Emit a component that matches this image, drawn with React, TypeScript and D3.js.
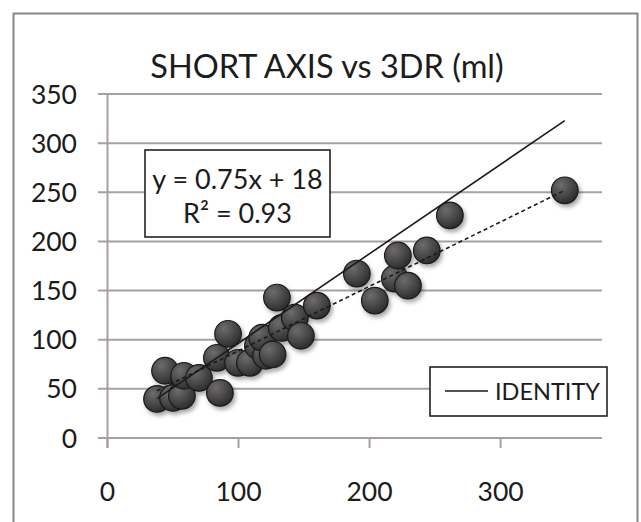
import React, { useEffect, useRef } from 'react';
import * as d3 from 'd3';

// 3DR volumes (x) and short axis volumes (y), ml
const xValues: number[] = [37.8, 43.9, 50, 56.8, 58.4, 69.8, 85.8, 83.5, 92, 99.6, 108.7, 114.8, 121, 118, 126, 129.3, 133, 143, 147.6, 159.8, 190.3, 204, 219.3, 229.3, 221.6, 243.7, 261.3, 349];
const yValues: number[] = [39.8, 68.4, 40.8, 42.9, 63.3, 61.2, 45.9, 81.6, 106, 76.5, 76.5, 93.9, 83.7, 102, 85, 142.9, 112, 122.4, 104, 134.7, 167.3, 139.8, 162.2, 155, 185.7, 190.8, 226.5, 252];

// line end points as drawn
const identityX: number[] = [37.8, 349];
const identityY: number[] = [40, 323];
const trendX: number[] = [37.8, 349];
const trendY: number[] = [48, 252];

const xTicks: number[] = [0, 100, 200, 300];
const yTicks: number[] = [0, 50, 100, 150, 200, 250, 300, 350];

const title = 'SHORT AXIS vs 3DR (ml)';
const equation = ['y = 0.75x + 18', 'R² = 0.93'];
const legendLabel = 'IDENTITY';

const width = 641;
const height = 522;
const font = 'Lato, sans-serif';
const gridColor = '#a8a09e';
const textColor = '#1c1c1c';

export default function App() {
  const ref = useRef<SVGSVGElement>(null);

  useEffect(() => {
    const svg = d3.select(ref.current);
    svg.selectAll('*').remove();

    const x: any = d3.scaleLinear().domain([0, 377.4]).range([107.5, 602]);
    const y: any = d3.scaleLinear().domain([0, 350]).range([438, 94]);

    const defs = svg.append('defs');
    const grad = defs.append('radialGradient')
      .attr('id', 'ball').attr('cx', '35%').attr('cy', '30%').attr('r', '75%');
    grad.append('stop').attr('offset', '0%').attr('stop-color', '#6e6c6b');
    grad.append('stop').attr('offset', '100%').attr('stop-color', '#2b2a2a');
    defs.append('filter').attr('id', 'shadow')
      .attr('x', '-50%').attr('y', '-50%').attr('width', '200%').attr('height', '200%')
      .append('feDropShadow')
      .attr('dx', 2).attr('dy', 3).attr('stdDeviation', 2)
      .attr('flood-color', '#000').attr('flood-opacity', 0.35);

    svg.append('rect').attr('width', width).attr('height', height).attr('fill', '#fff');

    // outer frame
    svg.append('rect')
      .attr('x', 13.5).attr('y', 13.5).attr('width', 624).attr('height', 540)
      .attr('fill', 'none').attr('stroke', '#8c8582').attr('stroke-width', 2);

    svg.append('text')
      .attr('x', 327).attr('y', 78)
      .attr('text-anchor', 'middle')
      .attr('font-family', font).attr('font-size', 32.5).attr('fill', textColor)
      .text(title);

    // gridlines
    svg.append('g').selectAll('line').data(yTicks).enter().append('line')
      .attr('x1', 98).attr('x2', x.range()[1])
      .attr('y1', (d: number) => y(d)).attr('y2', (d: number) => y(d))
      .attr('stroke', gridColor).attr('stroke-width', 2);

    // y axis
    svg.append('line')
      .attr('x1', x(0)).attr('x2', x(0)).attr('y1', y(350)).attr('y2', y(0) + 10)
      .attr('stroke', gridColor).attr('stroke-width', 2);
    svg.append('g').selectAll('line').data(xTicks).enter().append('line')
      .attr('x1', (d: number) => x(d)).attr('x2', (d: number) => x(d))
      .attr('y1', y(0)).attr('y2', y(0) + 10)
      .attr('stroke', gridColor).attr('stroke-width', 2);

    svg.append('g').selectAll('text').data(yTicks).enter().append('text')
      .attr('x', 77).attr('y', (d: number) => y(d))
      .attr('dy', '0.36em').attr('text-anchor', 'end')
      .attr('font-family', font).attr('font-size', 26.5).attr('fill', textColor)
      .text((d: number) => d);

    svg.append('g').selectAll('text').data(xTicks).enter().append('text')
      .attr('x', (d: number) => x(d)).attr('y', 501)
      .attr('text-anchor', 'middle')
      .attr('font-family', font).attr('font-size', 26.5).attr('fill', textColor)
      .text((d: number) => d);

    // points
    const pts = xValues.map((v, i) => [v, yValues[i]]);
    svg.append('g').attr('filter', 'url(#shadow)')
      .selectAll('circle').data(pts).enter().append('circle')
      .attr('cx', (d: number[]) => x(d[0])).attr('cy', (d: number[]) => y(d[1]))
      .attr('r', 13.3)
      .attr('fill', 'url(#ball)').attr('stroke', '#1a1a1a').attr('stroke-width', 1.2);

    const line = d3.line<number[]>().x((d) => x(d[0])).y((d) => y(d[1]));
    svg.append('path')
      .attr('d', line(identityX.map((v, i) => [v, identityY[i]])))
      .attr('fill', 'none').attr('stroke', '#1a1a1a').attr('stroke-width', 1.6);
    svg.append('path')
      .attr('d', line(trendX.map((v, i) => [v, trendY[i]])))
      .attr('fill', 'none').attr('stroke', '#1a1a1a').attr('stroke-width', 1.6)
      .attr('stroke-dasharray', '4,3');

    // equation box
    svg.append('rect')
      .attr('x', 145).attr('y', 150).attr('width', 185).attr('height', 87)
      .attr('fill', '#fff').attr('stroke', '#222').attr('stroke-width', 1.6);
    svg.append('g').selectAll('text').data(equation).enter().append('text')
      .attr('x', 237.5).attr('y', (d: string, i: number) => 189 + i * 34)
      .attr('text-anchor', 'middle')
      .attr('font-family', font).attr('font-size', 27).attr('fill', textColor)
      .text((d: string) => d);

    // legend
    svg.append('rect')
      .attr('x', 430).attr('y', 367).attr('width', 177).attr('height', 49)
      .attr('fill', '#fff').attr('stroke', '#222').attr('stroke-width', 1.6);
    svg.append('line')
      .attr('x1', 445).attr('x2', 488).attr('y1', 391).attr('y2', 391)
      .attr('stroke', '#1a1a1a').attr('stroke-width', 1.6);
    svg.append('text')
      .attr('x', 495).attr('y', 400)
      .attr('font-family', font).attr('font-size', 23.5).attr('fill', textColor)
      .text(legendLabel);
  }, []);

  return (
    <svg ref={ref} width={width} height={height}
      style={{ position: 'absolute', left: 0, top: 0, display: 'block' }} />
  );
}
